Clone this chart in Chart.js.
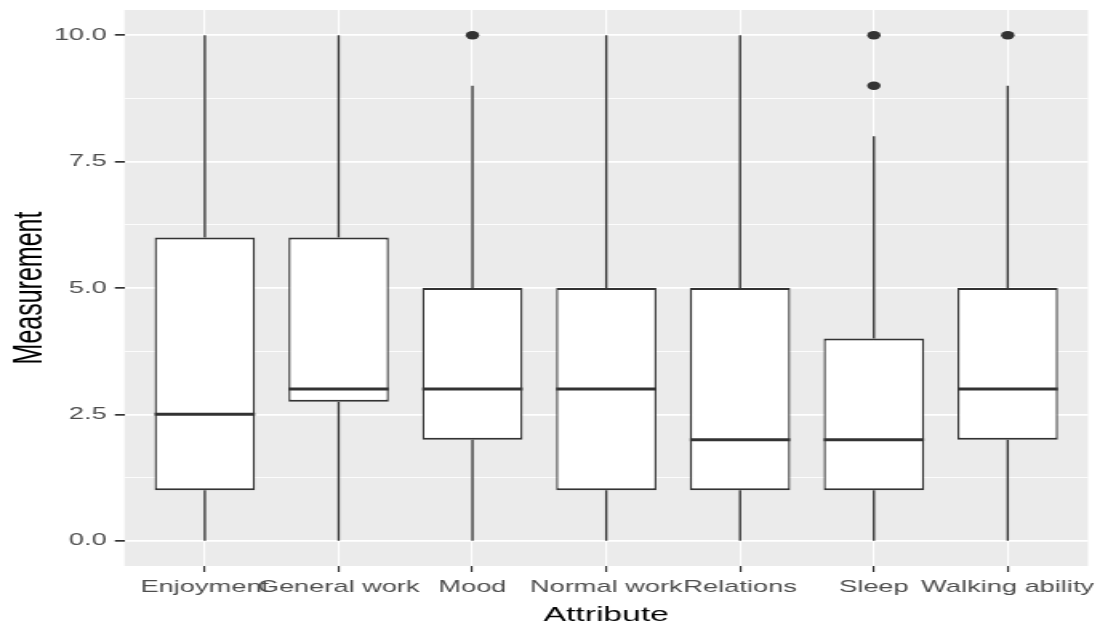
<!DOCTYPE html>
<html>
<head>
<meta charset="utf-8">
<title>Measurement by attribute</title>
<script src="https://cdn.jsdelivr.net/npm/chart.js@4/dist/chart.umd.min.js"></script>
<style>
  html, body { margin: 0; padding: 0; background: #ffffff; overflow: hidden; }
  #wrap { width: 692px; height: 632px; transform: scaleX(1.60116); transform-origin: 0 0; }
</style>
</head>
<body>
<div id="wrap"><canvas id="c" width="692" height="632"></canvas></div>
<script>
// Five-number summaries per attribute
const categories = ['Enjoyment', 'General work', 'Mood', 'Normal work', 'Relations', 'Sleep', 'Walking ability'];
const lowerWhisker = [0, 0, 0, 0, 0, 0, 0];
const q1 = [1, 2.75, 2, 1, 1, 1, 2];
const median = [2.5, 3, 3, 3, 2, 2, 3];
const q3 = [6, 6, 5, 5, 5, 4, 5];
const upperWhisker = [10, 10, 9, 10, 10, 8, 9];

// Points beyond the whiskers
const outlierCategory = [2, 5, 5, 6];
const outlierValue = [10, 10, 9, 10];

// Axis ticks
const yMajorTicks = [0, 2.5, 5, 7.5, 10];
const yMinorTicks = [1.25, 3.75, 6.25, 8.75];
const xTicks = categories.map((_, i) => i);

const INK = '#333333';
const PANEL = '#EBEBEB';
const FONT = "'Liberation Sans', Arial, sans-serif";

const boxData = categories.map((_, i) => ({ x: i, y: [q1[i], q3[i]] }));
const outlierData = outlierCategory.map((c, i) => ({ x: c, y: outlierValue[i] }));

const isMajor = v => yMajorTicks.includes(v);

// Grey panel behind the grid
const panelPlugin = {
  id: 'panel',
  beforeDraw(chart) {
    const { ctx, chartArea: a } = chart;
    ctx.save();
    ctx.fillStyle = PANEL;
    ctx.fillRect(a.left, a.top, a.right - a.left, a.bottom - a.top);
    ctx.restore();
  }
};

// Whiskers under the boxes, medians on top of them
const boxPartsPlugin = {
  id: 'boxParts',
  beforeDatasetsDraw(chart) {
    const { ctx } = chart;
    const y = chart.scales.y;
    const bars = chart.getDatasetMeta(0).data;
    ctx.save();
    ctx.strokeStyle = INK;
    ctx.lineWidth = 1.35;
    bars.forEach((bar, i) => {
      const { x } = bar.getProps(['x'], true);
      ctx.beginPath();
      ctx.moveTo(x, y.getPixelForValue(q3[i]));
      ctx.lineTo(x, y.getPixelForValue(upperWhisker[i]));
      ctx.moveTo(x, y.getPixelForValue(q1[i]));
      ctx.lineTo(x, y.getPixelForValue(lowerWhisker[i]));
      ctx.stroke();
    });
    ctx.restore();
  },
  afterDatasetsDraw(chart) {
    const { ctx } = chart;
    const y = chart.scales.y;
    const bars = chart.getDatasetMeta(0).data;
    ctx.save();
    ctx.strokeStyle = INK;
    ctx.lineWidth = 3;
    bars.forEach((bar, i) => {
      const { x, width } = bar.getProps(['x', 'width'], true);
      const py = y.getPixelForValue(median[i]);
      ctx.beginPath();
      ctx.moveTo(x - width / 2, py);
      ctx.lineTo(x + width / 2, py);
      ctx.stroke();
    });
    ctx.restore();
  }
};

new Chart(document.getElementById('c'), {
  type: 'bar',
  data: {
    datasets: [
      {
        label: 'Interquartile range',
        data: boxData,
        backgroundColor: '#FFFFFF',
        borderColor: INK,
        borderWidth: { top: 2, bottom: 2, left: 1.35, right: 1.35 },
        borderSkipped: false,
        categoryPercentage: 1,
        barPercentage: 0.75
      },
      {
        type: 'scatter',
        label: 'Outliers',
        data: outlierData,
        backgroundColor: INK,
        borderColor: INK,
        borderWidth: 0,
        pointRadius: 4.2,
        pointHoverRadius: 4.2
      }
    ]
  },
  options: {
    responsive: false,
    devicePixelRatio: 1,
    animation: false,
    layout: { padding: { left: 0, right: 12.5, top: 10, bottom: 0 } },
    plugins: {
      legend: { display: false },
      tooltip: { enabled: false }
    },
    scales: {
      x: {
        type: 'linear',
        min: -0.6,
        max: 6.6,
        offset: false,
        afterBuildTicks(scale) { scale.ticks = xTicks.map(v => ({ value: v })); },
        afterFit(scale) { scale.height = 66; scale.paddingLeft = 0; scale.paddingRight = 0; },
        border: { display: false },
        grid: {
          offset: false,
          color: '#FFFFFF',
          lineWidth: 1.1,
          drawTicks: true,
          tickLength: 6,
          tickColor: INK,
          tickWidth: 1.2
        },
        ticks: {
          autoSkip: false,
          maxRotation: 0,
          minRotation: 0,
          padding: 5,
          color: '#4D4D4D',
          font: { family: FONT, size: 17 },
          callback: v => categories[v]
        },
        title: {
          display: true,
          text: 'Attribute',
          color: '#000000',
          font: { family: FONT, size: 21 },
          padding: { top: 0, bottom: 4.4 }
        }
      },
      y: {
        type: 'linear',
        min: -0.5,
        max: 10.5,
        afterBuildTicks(scale) {
          scale.ticks = [...yMajorTicks, ...yMinorTicks].sort((a, b) => a - b).map(v => ({ value: v }));
        },
        afterFit(scale) { scale.width = 77.75; scale.paddingTop = 0; scale.paddingBottom = 0; },
        border: { display: false },
        grid: {
          color: '#FFFFFF',
          lineWidth: c => (c.tick && isMajor(c.tick.value) ? 1.7 : 0.85),
          drawTicks: true,
          tickLength: 6,
          tickColor: c => (c.tick && isMajor(c.tick.value) ? INK : 'rgba(0,0,0,0)'),
          tickWidth: 1.7
        },
        ticks: {
          padding: 5,
          color: '#4D4D4D',
          font: { family: FONT, size: 17 },
          callback: v => (isMajor(v) ? v.toFixed(1) : '')
        },
        title: {
          display: true,
          text: 'Measurement',
          color: '#000000',
          font: { family: FONT, size: 25 },
          padding: { top: 3.75, bottom: 0 }
        }
      }
    }
  },
  plugins: [panelPlugin, boxPartsPlugin]
});
</script>
</body>
</html>
